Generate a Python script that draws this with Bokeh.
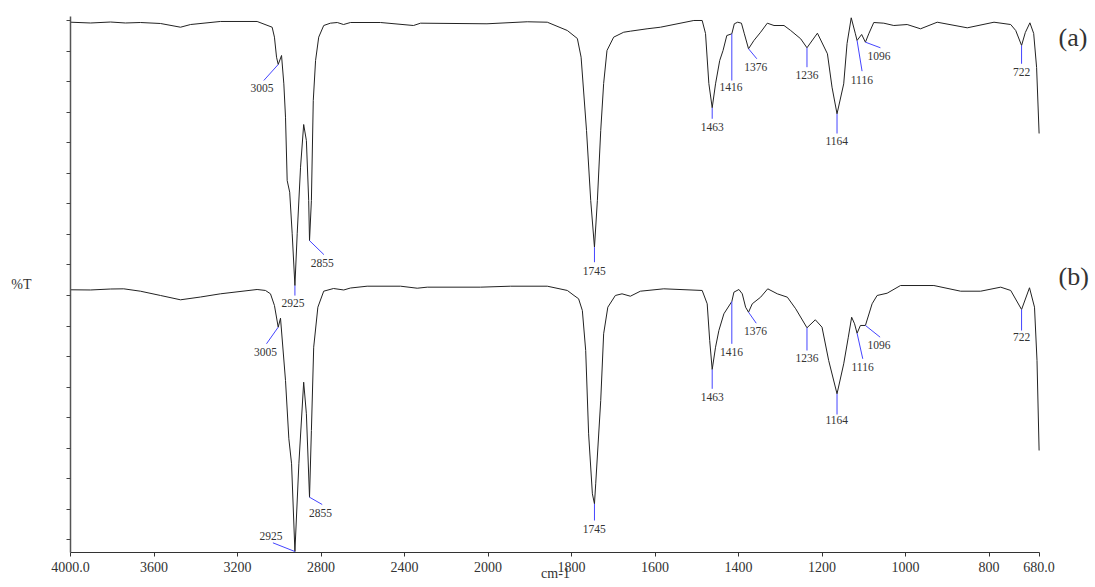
import numpy as np
from bokeh.plotting import figure
from bokeh.models import Range1d, FixedTicker, LinearAxis
from bokeh.embed import file_html
from bokeh.resources import INLINE
from bokeh.core.properties import value

# ---------------- data ----------------
wn_a = [4000, 3904, 3808, 3737, 3665, 3569, 3473, 3425, 3282, 3106, 3034, 3023, 3013,
        3005, 2989, 2978, 2970, 2962, 2950, 2938, 2925, 2914, 2898, 2883, 2870, 2859,
        2855, 2846, 2837, 2826, 2811, 2787, 2755, 2722, 2692, 2659, 2515, 2357, 2323,
        2005, 1906, 1858, 1810, 1786, 1777, 1764, 1754, 1745, 1738, 1730, 1723, 1715,
        1699, 1675, 1659, 1619, 1587, 1507, 1487, 1479, 1471, 1463, 1455, 1445, 1437,
        1428, 1416, 1410, 1402, 1393, 1386, 1376, 1363, 1347, 1331, 1315, 1291, 1275,
        1251, 1236, 1211, 1187, 1176, 1164, 1148, 1140, 1130, 1120, 1116, 1105, 1096,
        1088, 1076, 1052, 1028, 996, 964, 924, 852, 788, 748, 736, 722, 713, 702, 693,
        686, 680]
t_a = [84.74, 84.61, 84.77, 84.61, 84.69, 84.53, 83.92, 84.36, 84.86, 84.86, 83.92, 82.29, 79.01,
       77.82, 79.29, 74.65, 69.19, 58.82, 56.91, 50.10, 41.62, 50.10, 61.00, 67.99, 65.37, 55.56,
       48.98, 55.56, 71.92, 78.47, 82.29, 84.20, 84.58, 84.69, 84.36, 84.69, 84.69, 84.20, 84.58,
       84.48, 84.81, 84.74, 83.38, 82.07, 79.01, 67.00, 55.56, 47.90, 55.56, 67.00, 74.70, 80.11,
       82.29, 83.10, 83.27, 83.66, 83.92, 85.02, 85.02, 82.89, 74.70, 70.73, 74.65, 78.47, 80.11,
       82.56, 82.84, 84.48, 84.74, 84.58, 82.84, 80.39, 81.75, 83.10, 84.58, 84.20, 84.20, 83.38,
       82.02, 80.55, 82.94, 79.57, 74.10, 69.74, 74.65, 81.25, 85.46, 82.84, 81.75, 82.73, 81.47,
       82.84, 84.69, 84.58, 84.20, 84.36, 83.66, 84.74, 83.82, 84.74, 84.36, 83.38, 80.93, 83.05,
       84.64, 82.90, 77.33, 66.52]

wn_b = [4000, 3904, 3808, 3745, 3665, 3569, 3473, 3377, 3282, 3106, 3066, 3042, 3023,
        3005, 2994, 2970, 2954, 2941, 2925, 2906, 2883, 2870, 2855, 2846, 2835, 2815,
        2787, 2740, 2691, 2659, 2579, 2419, 2339, 2291, 2036, 1946, 1858, 1810, 1794,
        1783, 1774, 1766, 1759, 1750, 1745, 1742, 1730, 1723, 1713, 1695, 1679, 1659,
        1635, 1579, 1487, 1475, 1469, 1463, 1455, 1447, 1435, 1416, 1411, 1399, 1391,
        1383, 1376, 1367, 1347, 1330, 1307, 1283, 1263, 1236, 1216, 1200, 1184, 1164,
        1148, 1137, 1129, 1122, 1116, 1108, 1096, 1080, 1068, 1044, 1012, 932, 868,
        820, 772, 748, 722, 703, 691, 685, 680]
t_b = [40.93, 40.90, 41.06, 41.09, 40.70, 40.00, 39.29, 39.75, 40.27, 40.98, 40.82, 40.27, 38.36,
       34.81, 36.28, 26.08, 16.54, 12.44, -1.92, 12.44, 25.80, 20.63, 6.97, 17.89, 31.53, 38.08,
       40.70, 41.14, 40.90, 41.22, 41.52, 41.52, 41.19, 41.36, 41.36, 41.52, 41.52, 40.82, 40.00,
       39.46, 37.54, 30.99, 17.35, 7.53, 5.89, 9.17, 22.81, 33.73, 38.08, 40.00, 40.27, 39.88,
       40.70, 41.09, 40.82, 38.64, 32.63, 27.88, 31.53, 34.27, 37.00, 39.01, 40.54, 40.98, 40.27,
       38.08, 37.26, 38.64, 39.72, 41.09, 40.27, 39.72, 37.82, 34.71, 36.02, 34.81, 29.35, 23.90,
       28.81, 33.17, 36.44, 35.36, 33.82, 35.09, 35.09, 38.64, 40.00, 40.37, 41.63, 41.63, 40.70,
       40.70, 41.36, 40.82, 37.70, 41.26, 38.08, 29.35, 14.62]

peaks_a = [3005, 2925, 2855, 1745, 1463, 1416, 1376, 1236, 1164, 1116, 1096, 722]
peaks_b = [3005, 2925, 2855, 1745, 1463, 1416, 1376, 1236, 1164, 1116, 1096, 722]
series_tags = ["(a)", "(b)"]

x_tick_values = [4000, 3600, 3200, 2800, 2400, 2000, 1800, 1600, 1400, 1200, 1000, 800, 680]
x_tick_labels = ["4000.0", "3600", "3200", "2800", "2400", "2000", "1800", "1600",
                 "1400", "1200", "1000", "800", "680.0"]
y_tick_values = list(range(0, 90, 5))

# ---------------- layout (pixels) ----------------
W, H = 1095, 587
LEFT, RIGHT, TOP, BOTTOM = 70, 55, 16, 35
PX_PER_U = 0.4175        # pixels per unit of the broken wavenumber axis
PX_PER_Y = 6.108         # pixels per %T unit
Y_BOTTOM = -2.08
TAG_DROP = [15.7, -12.9]  # tag centre below each trace's starting level, pixels

# leader-line end and label centre offsets from each peak (dx, dy in pixels, dy downward)
lead_a = [(-14.4, 16), (0, 10), (14.4, 14), (0, 15), (0, 11), (0, 46.7), (8.3, 10),
          (0, 19.4), (0, 19.7), (5, 30.7), (15, 5.6), (0, 18.3)]
text_a = [(-16.2, 23.5), (-1.8, 17), (12.7, 22.5), (-0.3, 23.5), (0, 19), (-0.7, 53),
          (7.3, 18), (0, 27.2), (-0.3, 27), (4.8, 39.7), (13.5, 13.8), (0, 27)]
lead_b = [(-11.7, 16.6), (-22, -8.7), (12.7, 7.3), (0, 16.7), (0, 19.3), (0, 42.3),
          (7.7, 11), (0, 22.7), (0, 20.7), (5.7, 25.6), (14.7, 11.7), (0, 21)]
text_b = [(-12.7, 24.5), (-23.8, -15.2), (11, 15.6), (-0.3, 25.5), (0, 27.7), (-0.2, 50.3),
          (7, 18.8), (0, 30.2), (-0.3, 26), (5.5, 34), (13.5, 19.2), (0, 27.7)]

FONT = value("Liberation Serif")
INK = "#222222"
BLUE = "#4444ff"
TXT = "#333333"


def to_u(w):
    """Broken FTIR axis: 4000-2000 at half scale, below 2000 at full scale."""
    w = np.asarray(w, dtype=float)
    return np.where(w >= 2000, (4000 - w) / 2.0, 3000 - w)


frame_w = W - LEFT - RIGHT
frame_h = H - TOP - BOTTOM
p = figure(width=W, height=H,
           x_range=Range1d(0, frame_w / PX_PER_U),
           y_range=Range1d(Y_BOTTOM, Y_BOTTOM + frame_h / PX_PER_Y),
           output_backend="svg", toolbar_location=None,
           min_border_left=LEFT, min_border_right=RIGHT,
           min_border_top=TOP, min_border_bottom=BOTTOM)
p.outline_line_color = None
p.xgrid.visible = False
p.ygrid.visible = False

# x axis
tick_u = [int(round(float(v))) for v in to_u(x_tick_values)]
xa = p.xaxis[0]
xa.ticker = FixedTicker(ticks=tick_u)
xa.major_label_overrides = {u: lab for u, lab in zip(tick_u, x_tick_labels)}
xa.bounds = (float(to_u(4000)), float(to_u(680)))
xa.minor_tick_line_color = None
xa.major_tick_out = 4
xa.major_tick_in = 0
xa.major_label_standoff = 5
xa.major_label_text_font = "Liberation Serif"
xa.major_label_text_font_size = "14px"
xa.major_label_text_color = TXT
xa.axis_line_color = "#333333"
xa.major_tick_line_color = "#333333"
xa.axis_label = "cm-1"
xa.axis_label_text_font = "Liberation Serif"
xa.axis_label_text_font_size = "14px"
xa.axis_label_text_font_style = "normal"
xa.axis_label_text_color = TXT
xa.axis_label_standoff = -9

# y axis (ticks only, label "%T")
ya = p.yaxis[0]
ya.ticker = FixedTicker(ticks=y_tick_values)
ya.major_label_text_color = None
ya.major_label_standoff = 0
ya.minor_tick_line_color = None
ya.major_tick_out = 4
ya.major_tick_in = 0
ya.axis_line_color = "#555555"
ya.axis_line_width = 1.5
ya.major_tick_line_color = "#444444"
ya.axis_label = "%T"
ya.axis_label_text_font = "Liberation Serif"
ya.axis_label_text_font_size = "14px"
ya.axis_label_text_font_style = "normal"
ya.axis_label_text_color = TXT
ya.axis_label_standoff = 35
if "axis_label_orientation" in ya.properties():
    ya.axis_label_orientation = "horizontal"

# series tags "(a)", "(b)" on a bare right-hand axis, level with each trace
tag_y = [round(float(t[0]) - d / PX_PER_Y, 3) for t, d in zip((t_a, t_b), TAG_DROP)]
ra = LinearAxis(ticker=FixedTicker(ticks=tag_y),
                major_label_overrides={y: s for y, s in zip(tag_y, series_tags)})
ra.axis_line_color = None
ra.major_tick_line_color = None
ra.minor_tick_line_color = None
ra.major_label_standoff = 12
ra.major_label_text_font = "Liberation Serif"
ra.major_label_text_font_size = "26px"
ra.major_label_text_color = TXT
p.add_layout(ra, "right")

# spectra
for wn, t in ((wn_a, t_a), (wn_b, t_b)):
    p.line(to_u(wn), t, line_color=INK, line_width=1)

# peak annotations
for wn, t, peaks, lead, txt in ((wn_a, t_a, peaks_a, lead_a, text_a),
                                (wn_b, t_b, peaks_b, lead_b, text_b)):
    order = np.argsort(wn)
    pu = to_u(peaks)
    py = np.interp(peaks, np.asarray(wn)[order], np.asarray(t)[order])
    lx = pu + np.array([d[0] for d in lead]) / PX_PER_U
    ly = py - np.array([d[1] for d in lead]) / PX_PER_Y
    tx = pu + np.array([d[0] for d in txt]) / PX_PER_U
    ty = py - np.array([d[1] for d in txt]) / PX_PER_Y
    p.segment(pu, py, lx, ly, line_color=BLUE, line_width=1)
    p.text(tx, ty, text=[str(v) for v in peaks], text_align="center",
           text_baseline="middle", text_font=FONT, text_font_size="11.5px",
           text_color=TXT)

open("out.html", "w").write(file_html(p, INLINE))
